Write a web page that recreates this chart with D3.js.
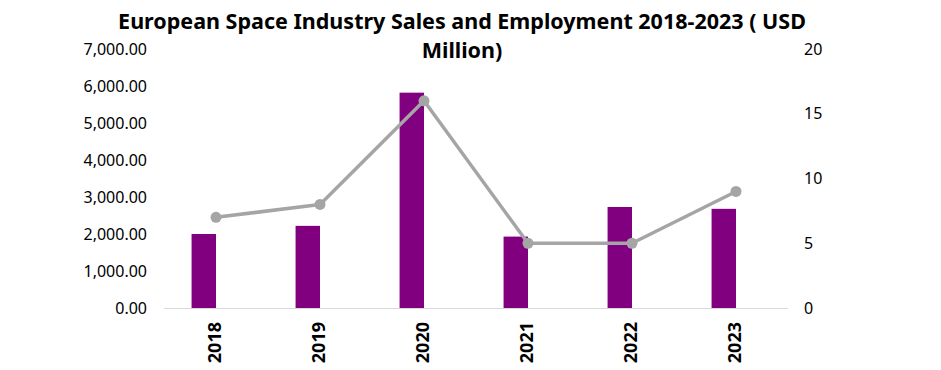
<!DOCTYPE html>
<html>
<head>
<meta charset="utf-8">
<script src="https://cdn.jsdelivr.net/npm/d3@7"></script>
<style>
  html, body { margin: 0; padding: 0; background: #fff; }
  svg text { font-family: "Noto Sans", "DejaVu Sans", sans-serif; fill: #000; }
</style>
</head>
<body>
<div id="chart"></div>
<script>
var years = ["2018", "2019", "2020", "2021", "2022", "2023"];
var sales = [2000, 2220, 5820, 1930, 2730, 2680];
var employment = [7, 8, 16, 5, 5, 9];
var leftTicks = [0, 1000, 2000, 3000, 4000, 5000, 6000, 7000];
var rightTicks = [0, 5, 10, 15, 20];
var titleLines = ["European Space Industry Sales and Employment 2018-2023 ( USD", "Million)"];

(function () {

  "use strict";

  var width = 941, height = 370;
  var margin = {left: 164, right: 153, top: 49, bottom: 62};

  var svg = d3.select("#chart").append("svg")
    .attr("width", width)
    .attr("height", height);

  var x = d3.scaleBand()
    .domain(years)
    .range([margin.left, width - margin.right])
    .paddingInner(0.53)
    .paddingOuter(0.265);

  // second slot of the cluster stays empty, like in the source sheet
  var x1 = d3.scaleBand()
    .domain(["sales", "empty"])
    .range([0, x.bandwidth()]);

  var yLeft = d3.scaleLinear().domain([0, 7000]).range([height - margin.bottom, margin.top]);
  var yRight = d3.scaleLinear().domain([0, 20]).range([height - margin.bottom, margin.top]);

  var mid = function (d) { return x(d) + x.bandwidth() / 2; };

  // title
  svg.append("g").selectAll("text")
    .data(titleLines)
    .join("text")
    .attr("x", 462)
    .attr("y", function (d, i) { return 29 + i * 29; })
    .attr("text-anchor", "middle")
    .attr("font-size", 21.5)
    .attr("font-weight", "bold")
    .text(function (d) { return d; });

  // left axis
  var fmt = d3.format(",.2f");
  svg.append("g")
    .attr("transform", "translate(" + (margin.left - 17) + ",0)")
    .call(d3.axisLeft(yLeft).tickValues(leftTicks).tickFormat(fmt).tickSize(0).tickPadding(0))
    .call(function (g) { g.select(".domain").remove(); })
    .selectAll("text")
    .attr("font-size", 16)
    .attr("fill", "#000");

  // right axis
  svg.append("g")
    .attr("transform", "translate(" + (width - margin.right + 16) + ",0)")
    .call(d3.axisRight(yRight).tickValues(rightTicks).tickSize(0).tickPadding(0))
    .call(function (g) { g.select(".domain").remove(); })
    .selectAll("text")
    .attr("font-size", 16)
    .attr("fill", "#000");

  // bars
  svg.append("g").selectAll("rect")
    .data(years)
    .join("rect")
    .attr("x", function (d) { return x(d) + x1("sales"); })
    .attr("width", x1.bandwidth())
    .attr("y", function (d, i) { return yLeft(sales[i]); })
    .attr("height", function (d, i) { return yLeft(0) - yLeft(sales[i]); })
    .attr("fill", "#800080");

  // baseline
  svg.append("line")
    .attr("x1", margin.left)
    .attr("x2", width - margin.right)
    .attr("y1", yLeft(0) + 0.5)
    .attr("y2", yLeft(0) + 0.5)
    .attr("stroke", "#d9d9d9")
    .attr("stroke-width", 1);

  // x labels
  svg.append("g").selectAll("text")
    .data(years)
    .join("text")
    .attr("transform", function (d) { return "translate(" + mid(d) + "," + (yLeft(0) + 14) + ") rotate(-90)"; })
    .attr("dy", "0.3em")
    .attr("text-anchor", "end")
    .attr("font-size", 18)
    .attr("font-weight", "bold")
    .text(function (d) { return d; });

  // employment line
  var line = d3.line()
    .x(function (d) { return mid(d); })
    .y(function (d, i) { return yRight(employment[i]); });

  svg.append("path")
    .datum(years)
    .attr("d", line)
    .attr("fill", "none")
    .attr("stroke", "#a5a5a5")
    .attr("stroke-width", 3.5)
    .attr("stroke-linejoin", "round");

  svg.append("g").selectAll("circle")
    .data(years)
    .join("circle")
    .attr("cx", mid)
    .attr("cy", function (d, i) { return yRight(employment[i]); })
    .attr("r", 5.5)
    .attr("fill", "#a5a5a5");

}());
</script>
</body>
</html>
